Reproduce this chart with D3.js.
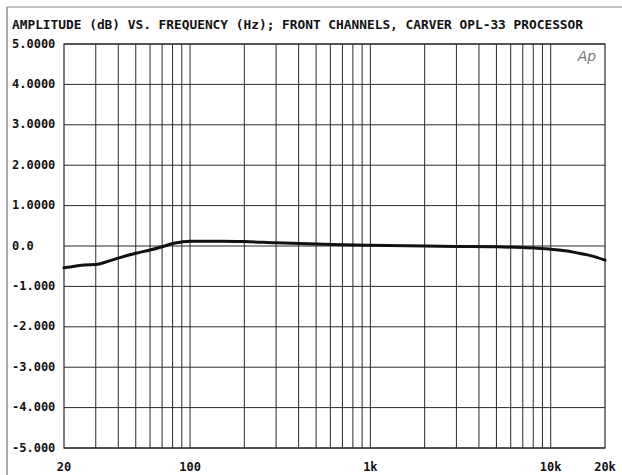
<!DOCTYPE html>
<html><head><meta charset="utf-8">
<script src="https://cdn.jsdelivr.net/npm/d3@7"></script>
<style>
html,body{margin:0;padding:0;background:#fff;}
svg{display:block;}
</style>
</head><body>
<svg id="chart" width="622" height="475"></svg>
<script>
const titleText = "AMPLITUDE (dB) VS. FREQUENCY (Hz); FRONT CHANNELS, CARVER OPL-33 PROCESSOR";
const yTicks = [5, 4, 3, 2, 1, 0, -1, -2, -3, -4, -5];
const yTickLabels = ["5.0000", "4.0000", "3.0000", "2.0000", "1.0000", "0.0", "-1.000", "-2.000", "-3.000", "-4.000", "-5.000"];
const xTickValues = [20, 100, 1000, 10000, 20000];
const xTickLabels = ["20", "100", "1k", "10k", "20k"];
const xGrid = [30,40,50,60,70,80,90,100,200,300,400,500,600,700,800,900,1000,2000,3000,4000,5000,6000,7000,8000,9000,10000];
const freq = [20, 23, 26, 30, 35, 40, 50, 60, 70, 80, 90, 100, 150, 200, 300, 500, 700, 1000, 2000, 3000, 5000, 7000, 10000, 12000, 14000, 16000, 18000, 20000];
const ampl = [-0.54, -0.5, -0.47, -0.46, -0.38, -0.3, -0.18, -0.1, -0.02, 0.06, 0.1, 0.12, 0.12, 0.11, 0.08, 0.05, 0.03, 0.02, 0.0, -0.01, -0.02, -0.04, -0.08, -0.12, -0.17, -0.22, -0.28, -0.35];

const svg = d3.select("#chart");
const L = 64, R = 605, T = 44, B = 448;
const x = d3.scaleLog().domain([20, 20000]).range([L, R]);
const y = d3.scaleLinear().domain([-5, 5]).range([B, T]);
const ink = "#2a2a2a";
const font = "'DejaVu Sans Mono', monospace";

// outer page border lines
svg.append("line").attr("x1", 7).attr("x2", 7).attr("y1", 7).attr("y2", 475)
  .attr("stroke", "#555").attr("stroke-width", 1);
svg.append("line").attr("x1", 7).attr("x2", 622).attr("y1", 7).attr("y2", 7)
  .attr("stroke", "#888").attr("stroke-width", 1);

// title
svg.append("text").attr("x", 12).attr("y", 28.5)
  .attr("font-family", font).attr("font-weight", "bold").attr("font-size", 12)
  .attr("textLength", 571).attr("lengthAdjust", "spacingAndGlyphs")
  .attr("fill", "#111").text(titleText);

// grid
const g = svg.append("g");
g.selectAll("line.h").data(yTicks).join("line")
  .attr("x1", L).attr("x2", R).attr("y1", d => y(d)).attr("y2", d => y(d))
  .attr("stroke", ink).attr("stroke-width", 1);
g.selectAll("line.v").data(xGrid).join("line")
  .attr("x1", d => x(d)).attr("x2", d => x(d)).attr("y1", T).attr("y2", B)
  .attr("stroke", ink).attr("stroke-width", 1);
g.append("rect").attr("x", L).attr("y", T).attr("width", R - L).attr("height", B - T)
  .attr("fill", "none").attr("stroke", ink).attr("stroke-width", 1.2);

// y labels
svg.selectAll("text.yl").data(yTicks).join("text")
  .attr("x", 12).attr("y", d => y(d) + 3.5)
  .attr("font-family", font).attr("font-weight", "bold").attr("font-size", 12)
  .attr("fill", "#111").text((d, i) => yTickLabels[i]);

// x labels
svg.selectAll("text.xl").data(xTickValues).join("text")
  .attr("x", d => x(d)).attr("y", 471).attr("text-anchor", "middle")
  .attr("font-family", font).attr("font-weight", "bold").attr("font-size", 12)
  .attr("fill", "#111").text((d, i) => xTickLabels[i]);

// Ap logo
svg.append("text").attr("x", 587).attr("y", 61).attr("text-anchor", "middle")
  .attr("font-family", "'DejaVu Sans', sans-serif").attr("font-style", "italic")
  .attr("font-weight", "300").attr("font-size", 14).attr("fill", "#777").text("Ap");

// data curve
const line = d3.line().x((d, i) => x(freq[i])).y(d => y(d)).curve(d3.curveMonotoneX);
svg.append("path").datum(ampl).attr("d", line)
  .attr("fill", "none").attr("stroke", "#111").attr("stroke-width", 3)
  .attr("stroke-linejoin", "round").attr("stroke-linecap", "round");
</script>
</body></html>
